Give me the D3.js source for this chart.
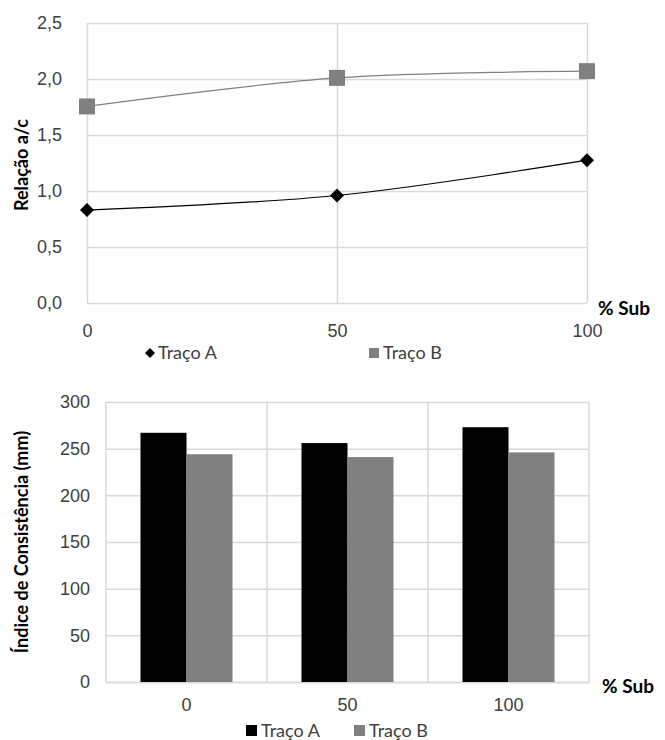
<!DOCTYPE html>
<html>
<head>
<meta charset="utf-8">
<script src="https://cdnjs.cloudflare.com/ajax/libs/d3/7.8.5/d3.min.js"></script>
<style>
  body { margin: 0; background: #fff; }
  svg { display: block; font-family: Lato, "Open Sans", sans-serif; }
  .tick text { fill: #404040; }
</style>
</head>
<body>
<svg width="665" height="740"></svg>
<script>
// ---- data ----
var subPct = [0, 50, 100];
var relacaoA = [0.83, 0.96, 1.275];
var relacaoB = [1.755, 2.01, 2.07];
var relacaoTicks = [0, 0.5, 1.0, 1.5, 2.0, 2.5];

var subCategories = ['0', '50', '100'];
var consistA = [267, 256, 273];
var consistB = [244, 241, 246];
var consistTicks = [0, 50, 100, 150, 200, 250, 300];

var seriesNames = ['Traço A', 'Traço B'];

var svg = d3.select('svg');
var gridColor = '#d9d9d9';
var fmtComma = function(d) { return d3.format('.1f')(d).replace('.', ','); };

// ================= top chart: Relação a/c =================
var box1 = {l: 87, r: 587, t: 23, b: 303};
var xTop = d3.scaleLinear().domain([0, 100]).range([box1.l, box1.r]);
var yTop = d3.scaleLinear().domain([0, 2.5]).range([box1.b, box1.t]);

var gTop = svg.append('g');

// horizontal gridlines
gTop.append('g')
    .attr('transform', 'translate(' + [box1.l, 0] + ')')
    .call(d3.axisLeft(yTop).tickValues(relacaoTicks).tickSize(-(box1.r - box1.l)).tickFormat(fmtComma).tickPadding(25))
    .call(function(g) {
        g.select('.domain').remove();
        g.selectAll('line').attr('stroke', gridColor).attr('stroke-width', 1.5);
        g.selectAll('text').attr('font-size', 18);
    });

// vertical gridlines
gTop.append('g')
    .attr('transform', 'translate(' + [0, box1.b] + ')')
    .call(d3.axisBottom(xTop).tickValues(subPct).tickSize(-(box1.b - box1.t)).tickPadding(21))
    .call(function(g) {
        g.select('.domain').remove();
        g.selectAll('line').attr('stroke', gridColor).attr('stroke-width', 1.5);
        g.selectAll('text').attr('font-size', 18);
    });

var lineTop = d3.line()
    .x(function(d) { return xTop(d[0]); })
    .y(function(d) { return yTop(d[1]); })
    .curve(d3.curveCatmullRom.alpha(0.5));

var ptsA = subPct.map(function(s, i) { return [s, relacaoA[i]]; });
var ptsB = subPct.map(function(s, i) { return [s, relacaoB[i]]; });

gTop.append('path').datum(ptsB).attr('d', lineTop)
    .attr('fill', 'none').attr('stroke', '#808080').attr('stroke-width', 1.2);
gTop.append('path').datum(ptsA).attr('d', lineTop)
    .attr('fill', 'none').attr('stroke', '#000').attr('stroke-width', 1.2);

gTop.selectAll('.markB').data(ptsB).enter().append('rect')
    .attr('class', 'markB')
    .attr('x', function(d) { return xTop(d[0]) - 8; })
    .attr('y', function(d) { return yTop(d[1]) - 8; })
    .attr('width', 16).attr('height', 16)
    .attr('fill', '#808080');

gTop.selectAll('.markA').data(ptsA).enter().append('path')
    .attr('class', 'markA')
    .attr('transform', function(d) { return 'translate(' + [xTop(d[0]), yTop(d[1])] + ')'; })
    .attr('d', 'M0,-7L7,0L0,7L-7,0Z')
    .attr('fill', '#000');

svg.append('text')
    .attr('transform', 'translate(' + [28, 165] + ') rotate(-90)')
    .attr('text-anchor', 'middle')
    .attr('font-size', 18).attr('font-weight', 'bold').attr('fill', '#000')
    .text('Relação a/c');

svg.append('text')
    .attr('x', 598).attr('y', 315)
    .attr('font-size', 19).attr('font-weight', 'bold').attr('fill', '#000')
    .text('% Sub');

// top legend
var legTop = svg.append('g').attr('transform', 'translate(0,353)');
legTop.append('path').attr('d', 'M150,-5L155,0L150,5L145,0Z').attr('fill', '#000');
legTop.append('text').attr('x', 158).attr('y', 6).attr('font-size', 18).attr('fill', '#404040').text(seriesNames[0]);
legTop.append('rect').attr('x', 369).attr('y', -5).attr('width', 10).attr('height', 10).attr('fill', '#808080');
legTop.append('text').attr('x', 383).attr('y', 6).attr('font-size', 18).attr('fill', '#404040').text(seriesNames[1]);

// ================= bottom chart: Índice de Consistência =================
var box2 = {l: 106, r: 589, t: 402, b: 682};
var xBot = d3.scaleBand().domain(subCategories).range([box2.l, box2.r]).padding(0);
var xInner = d3.scaleBand().domain(seriesNames).range([0, xBot.bandwidth()]).paddingOuter(0.75).paddingInner(0);
var yBot = d3.scaleLinear().domain([0, 300]).range([box2.b, box2.t]);

var gBot = svg.append('g');

gBot.append('g')
    .attr('transform', 'translate(' + [box2.l, 0] + ')')
    .call(d3.axisLeft(yBot).tickValues(consistTicks).tickSize(-(box2.r - box2.l)).tickPadding(16))
    .call(function(g) {
        g.select('.domain').remove();
        g.selectAll('line').attr('stroke', gridColor).attr('stroke-width', 1.5);
        g.selectAll('text').attr('font-size', 18).attr('font-family', '"Liberation Sans", Arial, sans-serif');
    });

// vertical separators at category boundaries
var bounds = subCategories.map(function(c) { return xBot(c); }).concat([xBot(subCategories[2]) + xBot.bandwidth()]);
gBot.selectAll('.vgrid').data(bounds).enter().append('line')
    .attr('class', 'vgrid')
    .attr('x1', function(d) { return d; }).attr('x2', function(d) { return d; })
    .attr('y1', box2.t).attr('y2', box2.b)
    .attr('stroke', gridColor).attr('stroke-width', 1.5);

gBot.append('g')
    .attr('transform', 'translate(' + [0, box2.b] + ')')
    .call(d3.axisBottom(xBot).tickSize(0).tickPadding(16))
    .call(function(g) {
        g.select('.domain').attr('stroke', gridColor).attr('stroke-width', 1.5);
        g.selectAll('text').attr('font-size', 18);
    });

var barRows = subCategories.map(function(c, i) {
    return [{cat: c, s: seriesNames[0], v: consistA[i]}, {cat: c, s: seriesNames[1], v: consistB[i]}];
});
var barColor = d3.scaleOrdinal().domain(seriesNames).range(['#000000', '#808080']);

gBot.selectAll('.grp').data(barRows).enter().append('g')
    .attr('class', 'grp')
    .attr('transform', function(d) { return 'translate(' + [xBot(d[0].cat), 0] + ')'; })
    .selectAll('rect').data(function(d) { return d; }).enter().append('rect')
    .attr('x', function(d) { return xInner(d.s); })
    .attr('y', function(d) { return yBot(d.v); })
    .attr('width', xInner.bandwidth())
    .attr('height', function(d) { return yBot(0) - yBot(d.v); })
    .attr('fill', function(d) { return barColor(d.s); });

svg.append('text')
    .attr('transform', 'translate(' + [28, (box2.t + box2.b) / 2] + ') rotate(-90)')
    .attr('text-anchor', 'middle')
    .attr('font-size', 18).attr('font-weight', 'bold').attr('fill', '#000')
    .text('Índice de Consistência (mm)');

svg.append('text')
    .attr('x', 602).attr('y', 693)
    .attr('font-size', 19).attr('font-weight', 'bold').attr('fill', '#000')
    .text('% Sub');

// bottom legend
var legBot = svg.append('g').attr('transform', 'translate(0,731)');
seriesNames.forEach(function(name, i) {
    var x0 = i === 0 ? 246 : 354;
    legBot.append('rect').attr('x', x0).attr('y', -6).attr('width', 11).attr('height', 11).attr('fill', barColor(name));
    legBot.append('text').attr('x', x0 + 15).attr('y', 6).attr('font-size', 18).attr('fill', '#404040').text(name);
});
</script>
</body>
</html>
